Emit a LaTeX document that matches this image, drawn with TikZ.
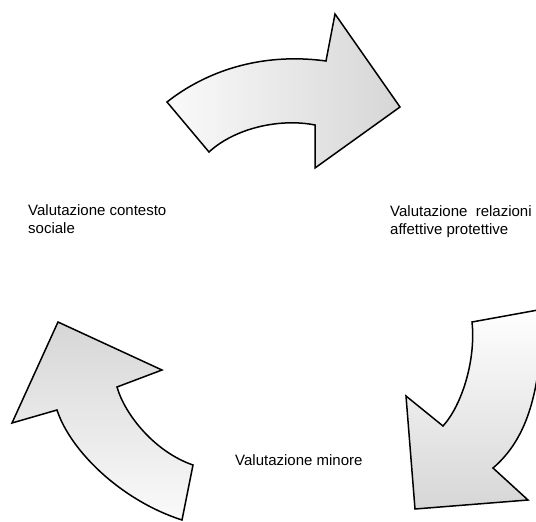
\documentclass[tikz,border=0pt]{standalone}
\usepackage{fontspec}
\setmainfont{Liberation Sans}
\usetikzlibrary{calc}

\begin{document}
\begin{tikzpicture}[x=1pt,y=-1pt,
    freccia/.style={line width=1.5pt},
    voce/.style={inner sep=0pt,align=left,font=\fontsize{15}{18}\selectfont}]
    \useasboundingbox (0,0) rectangle (536,522);
    \clip (0,0) rectangle (536,522);
    % freccia in alto: dal contesto sociale alle relazioni affettive
    \draw[freccia,left color=gray!4,right color=gray!32]
      (167,102) .. controls (205,72) and (260,52) .. (326,61) -- (335,14) -- (400,107)
      -- (315,168) -- (315,125) .. controls (280,118) and (235,128) .. (209,152) -- cycle;
    % freccia a destra, tagliata dal bordo della pagina
    \draw[freccia,top color=white,bottom color=gray!32]
      (472,322) -- (560,306) -- (540,355) .. controls (535,410) and (520,445) .. (493,468)
      -- (528,500) -- (415,509) -- (406,396) -- (443,426)
      .. controls (462,405) and (476,360) .. (472,322) -- cycle;
    % freccia a sinistra
    \draw[freccia,top color=gray!32,bottom color=gray!4]
      (58,322) -- (162,370) -- (117,387) .. controls (125,415) and (155,452) .. (193,465)
      -- (182,520) .. controls (120,500) and (70,450) .. (57,410) -- (12,423) -- cycle;
    \node[voce,anchor=base west] (contesto) at (28,233) {Valutazione contesto\\sociale};
    \node[voce,anchor=base west] (relazioni) at (390,234) {Valutazione~~relazioni\\affettive protettive};
    \node[voce,anchor=base west] (minore) at (235,465) {Valutazione minore};
\end{tikzpicture}
\end{document}
